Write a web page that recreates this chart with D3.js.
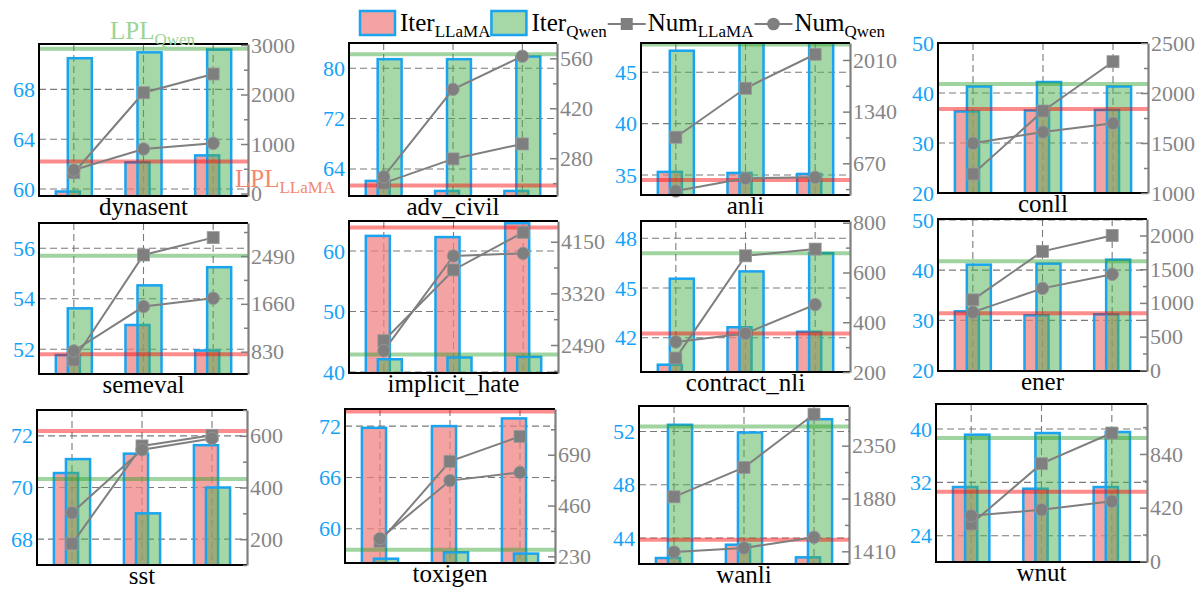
<!DOCTYPE html>
<html>
<head>
<meta charset="utf-8">
<script src="https://cdn.jsdelivr.net/npm/d3@7"></script>
<style>
  body { margin: 0; background: #fff; }
  svg { display: block; }
  svg text { font-family: "Liberation Serif", "Times New Roman", serif !important; }
</style>
</head>
<body>
<div id="chart"></div>
<script>
// ---- data ----
const datasets = ['dynasent', 'adv_civil', 'anli', 'conll',
  'semeval', 'implicit_hate', 'contract_nli', 'ener',
  'sst', 'toxigen', 'wanli', 'wnut'];

// bars (left axis), three rounds per dataset
const iterLlama = [
  [59.8, 62.14, 62.7], [62.1, 60.5, 60.5], [35.3, 35.2, 35.1], [36.3, 36.5, 36.6],
  [51.77, 52.96, 51.95], [62.5, 62.3, 64.6], [40.37, 42.63, 42.36], [31.8, 31.0, 31.2],
  [70.56, 71.31, 71.64], [71.8, 72.0, 72.9], [42.5, 43.5, 42.55], [31.3, 31.05, 31.3],
];
const iterQwen = [
  [70.5, 70.97, 71.2], [81.43, 81.43, 81.85], [47.1, 48.5, 48.5], [41.3, 42.2, 41.3],
  [53.62, 54.53, 55.25], [42.1, 42.4, 42.5], [45.56, 46.0, 47.1], [41.1, 41.3, 42.1],
  [71.1, 69.0, 70.0], [56.5, 57.25, 57.1], [52.5, 51.92, 52.92], [39.15, 39.4, 39.55],
];
// horizontal reference lines (left axis)
const lplLlama = [62.2, 61.35, 34.5, 36.8, 51.8, 63.9, 42.26, 31.4, 72.19, 73.7, 43.87, 30.6];
const lplQwen = [71.25, 82.2, 47.7, 41.8, 55.7, 42.9, 47.1, 41.8, 70.33, 57.56, 52.37, 38.65];

// lines (right axis)
const numLlama = [
  [420, 2036, 2414], [210, 278, 320], [1008, 1643, 2084], [1190, 1820, 2313],
  [686, 2507, 2808], [2559, 3696, 4301], [256, 667, 694], [1046, 1765, 2000],
  [182, 561, 602], [298, 660, 773], [1895, 2156, 2630], [292, 764, 1004],
];
const numQwen = [
  [475, 900, 1014], [228, 473, 566], [311, 475, 488], [1497, 1610, 1697],
  [842, 1613, 1757], [2399, 3920, 3963], [321, 355, 471], [863, 1216, 1426],
  [302, 546, 590], [310, 573, 610], [1404, 1440, 1535], [357, 404, 470],
];

// axis settings
const leftDomain = [
  [59.44, 71.64], [59.7, 84.0], [33.05, 47.85], [20, 50],
  [51.02, 57.0], [39.83, 64.96], [39.93, 49.04], [19.9, 50.2],
  [67, 73], [56, 74], [42.05, 53.91], [20.06, 43.75],
];
const leftTicks = [
  [60, 64, 68], [64, 72, 80], [35, 40, 45], [20, 30, 40, 50],
  [52, 54, 56], [40, 50, 60], [42, 45, 48], [20, 30, 40, 50],
  [68, 70, 72], [60, 66, 72], [44, 48, 52], [24, 32, 40],
];
const rightDomain = [
  [-50, 3020], [174, 603], [259, 2230], [1000, 2500],
  [443, 3062], [2040, 4483], [200, 807], [-10, 2245],
  [100, 700], [200, 897], [1297, 2703], [-5, 1231],
];
const rightTicks = [
  [0, 1000, 2000, 3000], [280, 420, 560], [670, 1340, 2010], [1000, 1500, 2000, 2500],
  [830, 1660, 2490], [2490, 3320, 4150], [200, 400, 600, 800], [0, 500, 1000, 1500, 2000],
  [200, 400, 600], [230, 460, 690], [1410, 1880, 2350], [0, 420, 840],
];
const rightMinorStep = [500, 70, 335, 250, 415, 415, 100, 250, 100, 115, 235, 210];

// ---- layout ----
const W = 1203, H = 593;
// plot frames: [left, right, top, bottom]
const boxes = [
  [39, 248, 44, 196], [349, 557, 43, 196], [641, 850, 43, 195], [938, 1148, 43, 193],
  [39, 248, 223, 374], [349, 558, 221, 373], [641, 850, 221, 372], [938, 1147, 219, 371],
  [37, 247, 410, 565], [345, 555, 409, 563], [639, 849, 406, 564], [936, 1147, 404, 562],
];

const C = {
  edge: '#1aa4ef',
  tickBlue: '#16a3f7',
  red: '#f08080',
  green: '#4caf50',
  lplRed: '#ff0000',
  lplGreen: '#2ca02c',
  gray: '#7f7f7f',
  tickGray: '#858585',
};
const fmt = d3.format('d');

const svg = d3.select('#chart').append('svg')
  .attr('width', W).attr('height', H);

const defs = svg.append('defs');

datasets.forEach((name, i) => {
  const [x0, x1, y0, y1] = boxes[i];
  const g = svg.append('g');

  const x = d3.scalePoint().domain([0, 1, 2]).range([x0, x1]).padding(0.5);
  const step = x.step();
  const bw = step * 0.345, off = step * 0.086;
  const yL = d3.scaleLinear().domain(leftDomain[i]).range([y1, y0]);
  const yR = d3.scaleLinear().domain(rightDomain[i]).range([y1, y0]);

  defs.append('clipPath').attr('id', `clip${i}`)
    .append('rect').attr('x', x0).attr('y', y0).attr('width', x1 - x0).attr('height', y1 - y0);
  const plot = g.append('g').attr('clip-path', `url(#clip${i})`);

  // dashed grid
  plot.append('g').selectAll('line').data(leftTicks[i]).join('line')
    .attr('x1', x0).attr('x2', x1)
    .attr('y1', (d) => yL(d)).attr('y2', (d) => yL(d))
    .attr('stroke', '#7a7a7a').attr('stroke-width', 1.1).attr('stroke-dasharray', '7,4');
  plot.append('g').selectAll('line').data([0, 1, 2]).join('line')
    .attr('x1', (d) => x(d)).attr('x2', (d) => x(d))
    .attr('y1', y0).attr('y2', y1)
    .attr('stroke', '#7a7a7a').attr('stroke-width', 1.1).attr('stroke-dasharray', '7,4');

  // bars
  const bottom = yL.range()[0];
  plot.append('g').selectAll('rect').data(iterLlama[i]).join('rect')
    .attr('x', (d, k) => x(k) - off - bw / 2).attr('width', bw)
    .attr('y', (d) => yL(d)).attr('height', (d) => Math.max(0, bottom - yL(d)) + 4)
    .attr('fill', C.red).attr('fill-opacity', 0.72)
    .attr('stroke', C.edge).attr('stroke-width', 2.5);
  plot.append('g').selectAll('rect').data(iterQwen[i]).join('rect')
    .attr('x', (d, k) => x(k) + off - bw / 2).attr('width', bw)
    .attr('y', (d) => yL(d)).attr('height', (d) => Math.max(0, bottom - yL(d)) + 4)
    .attr('fill', C.green).attr('fill-opacity', 0.5)
    .attr('stroke', C.edge).attr('stroke-width', 2.5);

  // LPL reference lines
  plot.append('line').attr('x1', x0).attr('x2', x1)
    .attr('y1', yL(lplLlama[i])).attr('y2', yL(lplLlama[i]))
    .attr('stroke', C.lplRed).attr('stroke-opacity', 0.45).attr('stroke-width', 4);
  plot.append('line').attr('x1', x0).attr('x2', x1)
    .attr('y1', yL(lplQwen[i])).attr('y2', yL(lplQwen[i]))
    .attr('stroke', C.lplGreen).attr('stroke-opacity', 0.45).attr('stroke-width', 4);

  // Num lines
  const line = d3.line().x((d) => d[0]).y((d) => d[1]);
  const ptsL = numLlama[i].map((v, k) => [x(k), yR(v)]);
  const ptsQ = numQwen[i].map((v, k) => [x(k), yR(v)]);
  [ptsL, ptsQ].forEach((pts) => {
    g.append('path').attr('d', line(pts)).attr('fill', 'none')
      .attr('stroke', C.gray).attr('stroke-width', 2);
  });
  g.append('g').selectAll('rect').data(ptsL).join('rect')
    .attr('x', (d) => d[0] - 6).attr('y', (d) => d[1] - 6)
    .attr('width', 12).attr('height', 12)
    .attr('fill', C.gray).attr('stroke', '#9a9a9a').attr('stroke-width', 0.8);
  g.append('g').selectAll('circle').data(ptsQ).join('circle')
    .attr('cx', (d) => d[0]).attr('cy', (d) => d[1]).attr('r', 6.3)
    .attr('fill', C.gray).attr('stroke', '#9a9a9a').attr('stroke-width', 0.8);

  // frame: left/top/bottom black
  g.append('path')
    .attr('d', `M${x1},${y0}H${x0}V${y1}H${x1}`)
    .attr('fill', 'none').attr('stroke', '#000').attr('stroke-width', 2);

  // left axis labels
  const la = g.append('g').attr('transform', `translate(${x0},0)`)
    .call(d3.axisLeft(yL).tickValues(leftTicks[i]).tickFormat(fmt).tickSize(0).tickPadding(4));
  la.select('.domain').remove();
  la.selectAll('text').attr('fill', C.tickBlue).attr('font-size', 22);

  // right axis (gray, inward ticks)
  const [r0, r1] = rightDomain[i];
  const m = rightMinorStep[i];
  const minors = d3.range(Math.ceil(r0 / m) * m, r1 + 1e-6, m)
    .filter((v) => !rightTicks[i].some((t) => Math.abs(t - v) < 1e-6));
  const rm = g.append('g').attr('transform', `translate(${x1},0)`)
    .call(d3.axisRight(yR).tickValues(minors).tickSize(-4).tickSizeOuter(0).tickFormat(''));
  rm.select('.domain').remove();
  rm.selectAll('line').attr('stroke', C.gray).attr('stroke-width', 1.5);
  const ra = g.append('g').attr('transform', `translate(${x1},0)`)
    .call(d3.axisRight(yR).tickValues(rightTicks[i]).tickFormat(fmt)
      .tickSize(-7).tickSizeOuter(0).tickPadding(3));
  ra.select('.domain').attr('stroke', C.gray).attr('stroke-width', 2.2);
  ra.selectAll('line').attr('stroke', C.gray).attr('stroke-width', 1.5);
  ra.selectAll('text').attr('fill', C.tickGray).attr('font-size', 22);

  // dataset name
  g.append('text').attr('x', (x0 + x1) / 2).attr('y', y1 + 19)
    .attr('text-anchor', 'middle').attr('font-size', 25).attr('fill', '#000')
    .text(name);
});

// text with a subscript, returns the end x
function subText(parent, x, y, main, sub, size, subSize, fill) {
  const t = parent.append('text').attr('x', x).attr('y', y)
    .attr('font-size', size).attr('fill', fill);
  t.append('tspan').text(main);
  t.append('tspan').attr('font-size', subSize).attr('dy', size * 0.24).text(sub);
  return x + t.node().getComputedTextLength();
}

// LPL annotations
subText(svg, 110, 39, 'LPL', 'Qwen', 25, 17, '#9bd493');
subText(svg, 235, 187, 'LPL', 'LLaMA', 25, 17, '#f5876f');

// legend
const legend = svg.append('g');
const legendItems = [
  { kind: 'bar', fill: C.red, op: 0.72, main: 'Iter', sub: 'LLaMA' },
  { kind: 'bar', fill: C.green, op: 0.5, main: 'Iter', sub: 'Qwen' },
  { kind: 'square', main: 'Num', sub: 'LLaMA' },
  { kind: 'circle', main: 'Num', sub: 'Qwen' },
];
let lx = 360;
legendItems.forEach((it) => {
  if (it.kind === 'bar') {
    legend.append('rect').attr('x', lx).attr('y', 11).attr('width', 35).attr('height', 24)
      .attr('fill', it.fill).attr('fill-opacity', it.op)
      .attr('stroke', C.edge).attr('stroke-width', 2.5);
  } else {
    legend.append('line').attr('x1', lx).attr('x2', lx + 38).attr('y1', 24).attr('y2', 24)
      .attr('stroke', C.gray).attr('stroke-width', 2);
    if (it.kind === 'square') {
      legend.append('rect').attr('x', lx + 13).attr('y', 18).attr('width', 12).attr('height', 12)
        .attr('fill', C.gray);
    } else {
      legend.append('circle').attr('cx', lx + 19).attr('cy', 24).attr('r', 6.3).attr('fill', C.gray);
    }
  }
  const end = subText(legend, lx + 40, 31, it.main, it.sub, 25, 17, '#000');
  lx = end + 1;
});
</script>
</body>
</html>
